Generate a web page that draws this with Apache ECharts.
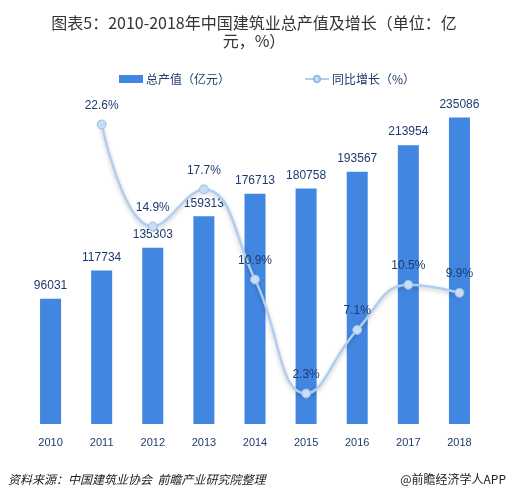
<!DOCTYPE html>
<html><head><meta charset="utf-8">
<script src="https://cdn.jsdelivr.net/npm/echarts@6/dist/echarts.min.js"></script>
<style>html,body{margin:0;padding:0;background:#fff}#c{width:508px;height:498px}</style>
</head><body><div id="c"></div>
<script>
const years = ['2010','2011','2012','2013','2014','2015','2016','2017','2018'];
const output = [96031,117734,135303,159313,176713,180758,193567,213954,235086];
const growth = [null,22.6,14.9,17.7,10.9,2.3,7.1,10.5,9.9];
const chart = echarts.init(document.getElementById('c'));
const navy = '#1f3b6e';
chart.setOption({
  animation:false,
  title:{text:'图表5：2010-2018年中国建筑业总产值及增长（单位：亿\n元，%）',left:'center',top:9,
    textStyle:{fontSize:16,fontWeight:'normal',color:'#333',lineHeight:18,fontFamily:'Noto Sans CJK SC'}},
  legend:{top:68,left:114,itemGap:74,itemWidth:24,itemHeight:8,
    textStyle:{color:navy,fontSize:12,fontFamily:'Noto Sans CJK SC',padding:[0,0,0,-2]},
    data:[{name:'总产值（亿元）',icon:'rect'},{name:'同比增长（%）'}]},
  grid:{left:25,right:23,top:33,bottom:74},
  xAxis:{type:'category',data:years,axisLine:{show:false},axisTick:{show:false},
    axisLabel:{color:navy,fontSize:11,margin:13}},
  yAxis:[{type:'value',min:0,max:300000,show:false,splitLine:{show:false}},
         {type:'value',min:0,max:29.5,show:false,splitLine:{show:false}}],
  series:[
    {name:'总产值（亿元）',type:'bar',data:output,barWidth:21,itemStyle:{color:'#4186e0'},
      label:{show:true,position:'top',distance:7,color:navy,fontSize:12}},
    {name:'同比增长（%）',type:'line',yAxisIndex:1,data:growth,smooth:0.45,connectNulls:false,
      symbol:'circle',symbolSize:9,
      lineStyle:{color:'#b0cdf2',width:2.5,shadowColor:'rgba(0,0,0,0.22)',shadowBlur:4,shadowOffsetY:2},
      itemStyle:{color:'#c8dcf5',borderColor:'#98bae8',borderWidth:1},
      label:{show:true,position:'top',distance:8,color:navy,fontSize:12,formatter:p=>p.value+'%'}}
  ],
  graphic:[
    {type:'text',left:8,top:473,style:{text:'资料来源：中国建筑业协会  前瞻产业研究院整理',fontSize:12,fontStyle:'italic',fill:'#222',fontFamily:'Noto Sans CJK SC'}},
    {type:'text',right:2,top:473,style:{text:'@前瞻经济学人APP',fontSize:12,fill:'#222',fontFamily:'Noto Sans CJK SC'}}
  ]
});
</script></body></html>
